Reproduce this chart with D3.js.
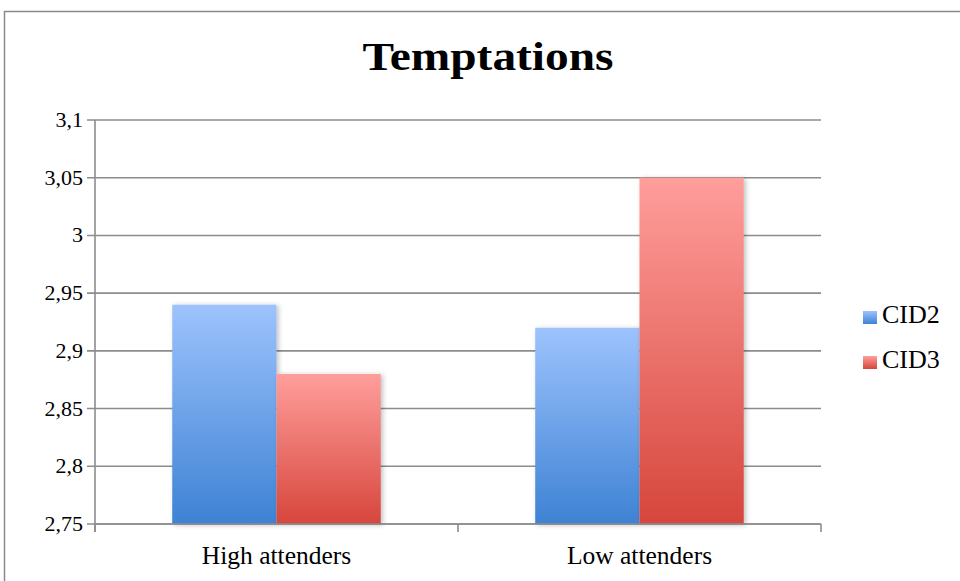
<!DOCTYPE html>
<html>
<head>
<meta charset="utf-8">
<script src="https://cdn.jsdelivr.net/npm/d3@7"></script>
<style>
  body { margin: 0; background: #fff; }
  text { font-family: "Liberation Serif", "Times New Roman", serif; fill: #000; }
</style>
</head>
<body>
<div id="chart"></div>
<script>
// chart data
const categories = ["High attenders", "Low attenders"];
const seriesNames = ["CID2", "CID3"];
const cid2 = [2.94, 2.92];
const cid3 = [2.88, 3.05];
const yTicks = [2.75, 2.8, 2.85, 2.9, 2.95, 3, 3.05, 3.1];

const W = 960, H = 581;
const plot = { left: 95, right: 821, top: 120, bottom: 524 };

const svg = d3.select("#chart").append("svg")
    .attr("width", W)
    .attr("height", H);

const defs = svg.append("defs");

// gradients for the bars
const grads = [
    { id: "gBlue", top: "#9dc3fd", bottom: "#3e82d4" },
    { id: "gRed", top: "#ff9e9b", bottom: "#d6463c" }
];
grads.forEach(g => {
    const lg = defs.append("linearGradient")
        .attr("id", g.id)
        .attr("x1", 0).attr("y1", 0).attr("x2", 0).attr("y2", 1);
    lg.append("stop").attr("offset", "0%").attr("stop-color", g.top);
    lg.append("stop").attr("offset", "100%").attr("stop-color", g.bottom);
});

// soft shadow under bars
const f = defs.append("filter").attr("id", "shadow")
    .attr("x", "-10%").attr("y", "-10%").attr("width", "130%").attr("height", "130%");
f.append("feDropShadow")
    .attr("dx", 2).attr("dy", 1).attr("stdDeviation", 2.5)
    .attr("flood-color", "#000").attr("flood-opacity", 0.25);

// outer frame
svg.append("rect")
    .attr("x", 4.5).attr("y", 11.5)
    .attr("width", W).attr("height", H)
    .attr("fill", "none")
    .attr("stroke", "#8a8a8a")
    .attr("stroke-width", 1.5);

// title
svg.append("text")
    .attr("x", 488).attr("y", 70)
    .attr("text-anchor", "middle")
    .attr("textLength", 251)
    .attr("lengthAdjust", "spacingAndGlyphs")
    .style("font-size", "41px")
    .style("font-weight", "bold")
    .text("Temptations");

// scales
const y = d3.scaleLinear()
    .domain([2.75, 3.1])
    .range([plot.bottom, plot.top]);

const x0 = d3.scaleBand()
    .domain(categories)
    .range([plot.left, plot.right])
    .paddingInner(0.4255)
    .paddingOuter(0.2128);

const x1 = d3.scaleBand()
    .domain(seriesNames)
    .range([0, x0.bandwidth()]);

// gridlines
svg.append("g")
    .selectAll("line")
    .data(yTicks)
    .join("line")
    .attr("x1", plot.left - 8)
    .attr("x2", plot.right)
    .attr("y1", d => y(d))
    .attr("y2", d => y(d))
    .attr("stroke", "#8c8c8c")
    .attr("stroke-width", 1.6);

// y axis line
svg.append("line")
    .attr("x1", plot.left).attr("x2", plot.left)
    .attr("y1", plot.top).attr("y2", plot.bottom + 8)
    .attr("stroke", "#8c8c8c")
    .attr("stroke-width", 1.6);

// y tick labels
const fmt = d => String(d).replace(".", ",");
svg.append("g")
    .selectAll("text")
    .data(yTicks)
    .join("text")
    .attr("x", plot.left - 12)
    .attr("y", d => y(d) + 7)
    .attr("text-anchor", "end")
    .style("font-size", "22px")
    .text(fmt);

// bars
const data = categories.map((c, i) => ({ cat: c, vals: [cid2[i], cid3[i]] }));
const fills = ["url(#gBlue)", "url(#gRed)"];

const groups = svg.append("g")
    .selectAll("g")
    .data(data)
    .join("g")
    .attr("transform", d => `translate(${x0(d.cat)},0)`);

groups.selectAll("rect")
    .data(d => d.vals.map((v, j) => ({ key: seriesNames[j], v: v, j: j })))
    .join("rect")
    .attr("x", d => x1(d.key))
    .attr("width", x1.bandwidth())
    .attr("y", d => y(d.v))
    .attr("height", d => y(2.75) - y(d.v))
    .attr("fill", d => fills[d.j])
    .attr("filter", "url(#shadow)");

// x axis line + ticks
svg.append("line")
    .attr("x1", plot.left).attr("x2", plot.right)
    .attr("y1", plot.bottom).attr("y2", plot.bottom)
    .attr("stroke", "#8c8c8c")
    .attr("stroke-width", 1.6);

const xEdges = [plot.left, (plot.left + plot.right) / 2, plot.right];
svg.append("g")
    .selectAll("line")
    .data(xEdges)
    .join("line")
    .attr("x1", d => d).attr("x2", d => d)
    .attr("y1", plot.bottom).attr("y2", plot.bottom + 8)
    .attr("stroke", "#8c8c8c")
    .attr("stroke-width", 1.6);

// category labels
svg.append("g")
    .selectAll("text")
    .data(categories)
    .join("text")
    .attr("x", d => x0(d) + x0.bandwidth() / 2)
    .attr("y", 564)
    .attr("text-anchor", "middle")
    .style("font-size", "25.5px")
    .text(d => d);

// legend
const legend = svg.append("g")
    .selectAll("g")
    .data(seriesNames)
    .join("g")
    .attr("transform", (d, i) => `translate(863,${311 + i * 45})`);

legend.append("rect")
    .attr("width", 14).attr("height", 13)
    .attr("fill", (d, i) => fills[i]);

legend.append("text")
    .attr("x", 19)
    .attr("y", 12)
    .style("font-size", "26px")
    .text(d => d);
</script>
</body>
</html>
